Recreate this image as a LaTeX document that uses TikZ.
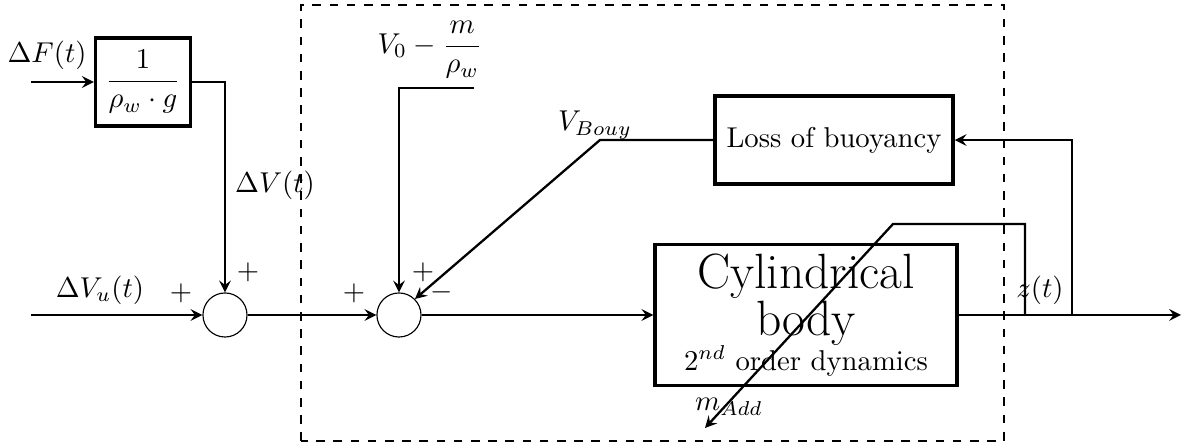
\documentclass[tikz,border=0pt]{standalone}
\usepackage{amsmath,amsfonts,amssymb}
\usepackage{tikz}
\usetikzlibrary{arrows}

\begin{document}
\begin{tikzpicture}[>=stealth,
    block/.style={draw, very thick, align=center},
    sumnode/.style={draw, circle, minimum size=0.54cm, inner sep=0pt},
    link/.style={thick}]
    \useasboundingbox (-2.757,-1.605) rectangle (11.813,3.860);
    \draw[dashed, line width=1pt] (0.931,-1.544) rectangle (9.546,3.799);

    \node[block, minimum width=1.164cm, minimum height=1.078cm] (gain) at (-1.005,2.855) {$\dfrac{1}{\rho_w\cdot g}$};
    \node[sumnode] (sumA) at (0,0) {};
    \node[sumnode] (sumB) at (2.132,0) {};
    \node[block, minimum width=2.916cm, minimum height=1.078cm] (loss) at (7.463,2.144) {Loss of buoyancy};
    \node[block, minimum width=3.7cm, minimum height=1.593cm] (body) at (7.12,0) {{\LARGE Cylindrical}\\ {\LARGE body}\\ $2^{nd}$ order dynamics};

    \coordinate (inF) at (-2.377,2.855);
    \coordinate (inU) at (-2.377,0);
    \coordinate (inV) at (3.051,2.782);
    \coordinate (kinkB) at (4.595,2.144);
    \coordinate (outZ) at (11.715,0);
    \coordinate (tapZ) at (10.379,0);
    \coordinate (tapM) at (9.803,0);
    \coordinate (kinkM) at (8.186,1.115);
    \coordinate (outM) at (5.882,-1.385);

    \draw[link, ->] (inF) -- (gain);
    \draw[link, ->] (gain.east) -| (sumA.north);
    \draw[link, ->] (inU) -- (sumA);
    \draw[link, ->] (sumA) -- (sumB);
    \draw[link, ->] (inV) -| (sumB.north);
    \draw[link, ->] (loss.west) -- (kinkB) -- (sumB.north east);
    \draw[link, ->] (sumB) -- (body);
    \draw[link, ->] (body) -- (outZ);
    \draw[link, ->] (tapZ) |- (loss.east);
    \draw[link, ->] (tapM) |- (kinkM) -- (outM);

    \node (lblF) at (-2.18,3.186) {$\Delta F(t)$};
    \node (lblV) at (0.613,1.593) {$\Delta V(t)$};
    \node (lblU) at (-1.532,0.306) {$\Delta V_u(t)$};
    \node (lblV0) at (2.512,3.247) {$V_0-\dfrac{m}{\rho_w}$};
    \node (lblB) at (4.534,2.328) {$V_{Bouy}$};
    \node (lblZ) at (9.987,0.306) {$z(t)$};
    \node (lblM) at (6.176,-1.127) {$m_{Add}$};
    \node (sgnA1) at (-0.539,0.27) {$+$};
    \node (sgnA2) at (0.282,0.527) {$+$};
    \node (sgnB1) at (1.581,0.27) {$+$};
    \node (sgnB2) at (2.426,0.527) {$+$};
    \node (sgnB3) at (2.659,0.282) {$-$};
\end{tikzpicture}
\end{document}
